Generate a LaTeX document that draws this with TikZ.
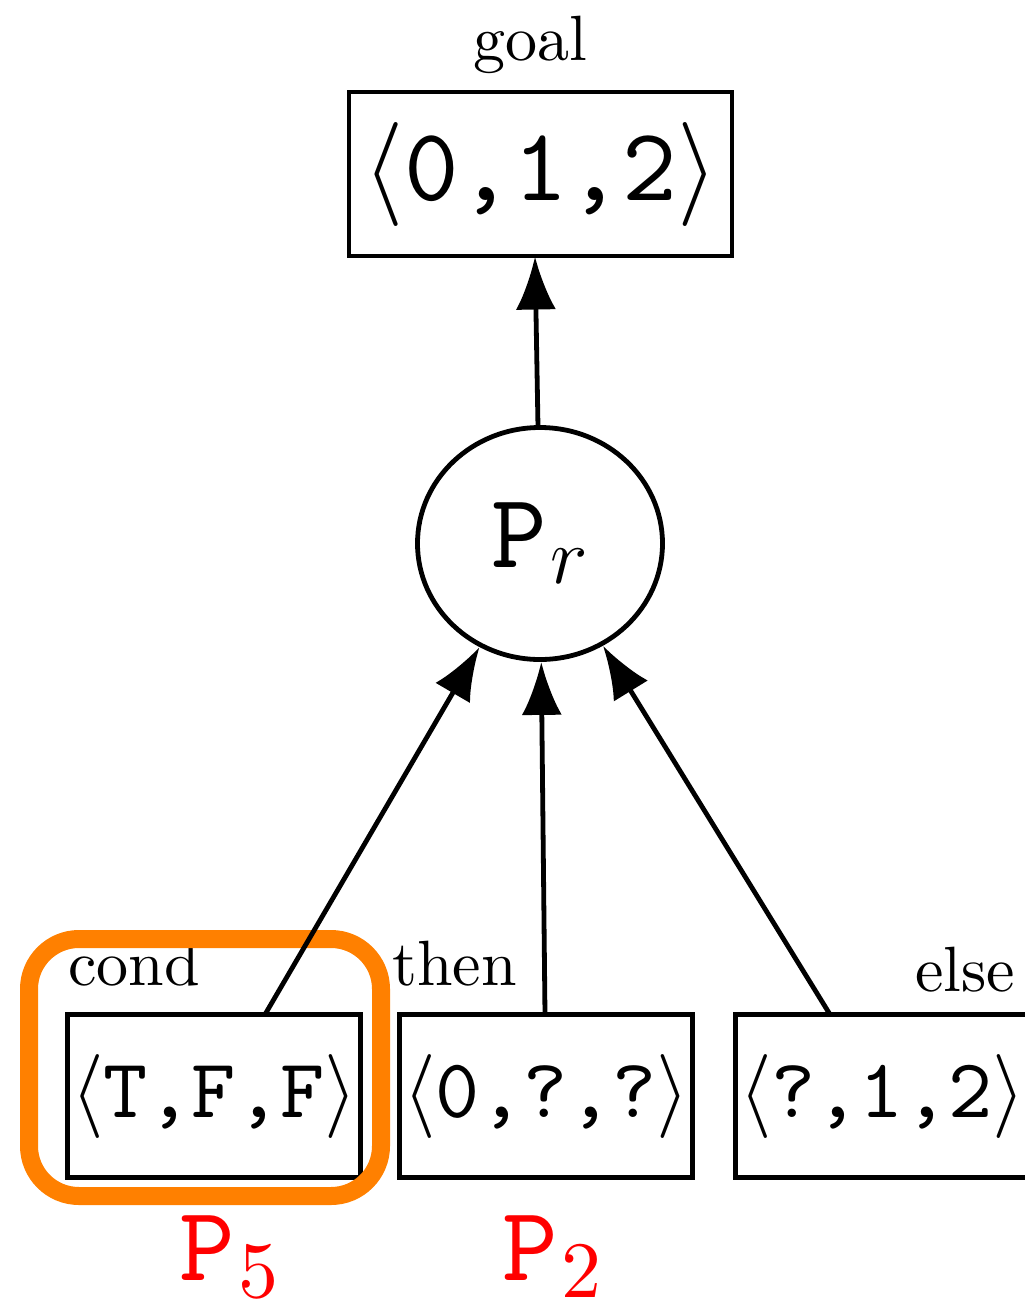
\documentclass[tikz,border=0pt]{standalone}
\usepackage{fix-cm}
\usetikzlibrary{arrows.meta,shapes.geometric}
\definecolor{hlorange}{RGB}{255,128,0}
\definecolor{hlred}{RGB}{255,0,0}
\font\rmlbl="[lmroman10-regular]:mapping=tex-text" at 64pt
\font\rmsub="[lmroman10-regular]:mapping=tex-text" at 80pt
\font\ttgoal="[lmmono10-regular]" at 104pt
\font\ttval="[lmmono10-regular]" at 84pt
\font\ttprog="[lmmono10-regular]" at 106pt
\tikzset{
  valbox/.style={draw, line width=4.8pt, rectangle, inner sep=0pt, minimum width=293pt, minimum height=163pt, font=\fontsize{84}{96}\selectfont\ttval},
  goalbox/.style={draw, line width=4.8pt, rectangle, inner sep=0pt, minimum width=383pt, minimum height=164pt, font=\fontsize{104}{120}\selectfont\ttgoal},
  prog/.style={draw, line width=4.8pt, ellipse, inner sep=0pt, minimum width=245pt, minimum height=232pt, font=\fontsize{106}{120}\selectfont\ttprog},
  lbl/.style={inner sep=0pt, font=\fontsize{64}{76}\selectfont\rmlbl},
  plbl/.style={inner sep=0pt, text=hlred, font=\fontsize{106}{120}\selectfont\ttprog, anchor=base west},
  conn/.style={line width=4.8pt, -{Latex[length=53pt,width=40pt]}},
  hl/.style={draw=hlorange, line width=18pt, rounded corners=50pt}
}
\newcommand{\subdigit}[1]{\kern4pt\lower17pt\hbox{\rmsub #1}}
\newcommand{\subvar}[1]{\kern3pt\lower16pt\hbox{\fontsize{80}{90}\selectfont$#1$}}
\begin{document}
\begin{tikzpicture}[x=1pt,y=-1pt]
\path[use as bounding box] (0,0) rectangle (1025,1299);
% goal
\node[goalbox] (goal) at (540.5,174) {$\langle$0,1,2$\rangle$};
\node[lbl, anchor=base] (goallbl) at (530,60) {goal};
% program node
\node[prog] (Pr) at (540,543.5) {P\subvar{r}};
% bottom boxes
\node[valbox] (cond) at (214,1096) {$\langle$T,F,F$\rangle$};
\node[valbox] (then) at (546,1096) {$\langle$0,?,?$\rangle$};
\node[valbox] (else) at (882,1096) {$\langle$?,1,2$\rangle$};
\node[lbl, anchor=base west] (condlbl) at (68,985) {cond};
\node[lbl, anchor=base west] (thenlbl) at (392,985) {then};
\node[lbl, anchor=base west] (elselbl) at (915,991) {else};
% highlight
\draw[hl] (29,939) rectangle (381,1196);
% red labels
\node[plbl] (p5) at (179,1280) {P\subdigit{5}};
\node[plbl] (p2) at (502,1280) {P\subdigit{2}};
% connectors
\coordinate (ca) at (265,1014.5);
\coordinate (cb) at (545,1014.5);
\coordinate (cc) at (830,1014.5);
\coordinate (gb) at (535,256.5);
\coordinate (pt) at (538,427);
\draw[conn] (pt) -- (gb);
\draw[conn] (ca) -- (Pr);
\draw[conn] (cb) -- (Pr);
\draw[conn] (cc) -- (Pr);
\end{tikzpicture}
\end{document}
